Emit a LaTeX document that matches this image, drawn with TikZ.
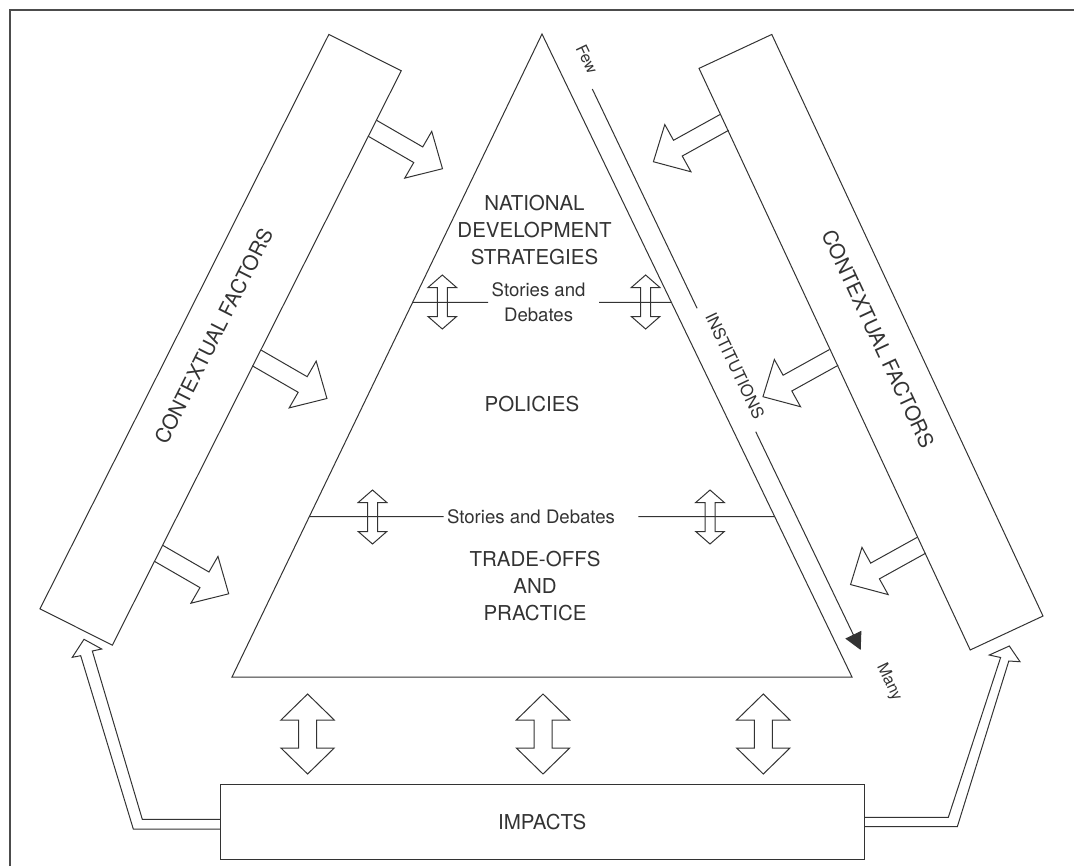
\documentclass[tikz,border=0pt]{standalone}
\usepackage{fontspec}
\setmainfont{TeX Gyre Heros}
\usetikzlibrary{calc,arrows.meta}
\begin{document}
\begin{tikzpicture}[x=0.5pt, y=-0.5pt, color=black!80, line width=0.5pt, line join=miter,
	big/.style={font=\fontsize{10.25}{13.5}\selectfont, align=center},
	small/.style={font=\fontsize{9.3}{12.5}\selectfont, align=center, inner sep=1.5pt},
	tiny/.style={font=\fontsize{8}{10}\selectfont, rotate=-64.5},
	cfbox/.style={draw, big, inner sep=0pt, outer sep=0pt}]
	\useasboundingbox (0,0) rectangle (1074,866);
	\draw[line width=0.8pt, black!70] (10,866) -- (10,10) -- (1074,10);
	\path (542,34) coordinate (T) (232,677) coordinate (L) (852,677) coordinate (R)
		(592.3,89) coordinate (i1) (697.1,308.3) coordinate (i2)
		(755.7,431.7) coordinate (i3) (860.7,650) coordinate (i4);
	\draw (T) -- (R) -- (L) -- cycle;
	\node[cfbox, text depth=8pt, rotate=63.3, minimum width=321.5pt, minimum height=40.5pt] (lcf) at (220.6,339.8) {CONTEXTUAL FACTORS};
	\node[cfbox, text depth=8pt, rotate=-65, minimum width=320.85pt, minimum height=40.15pt] (rcf) at (871,342.2) {CONTEXTUAL FACTORS};
	\node[cfbox, minimum width=322.15pt, minimum height=37.5pt] (imp) at (542.2,821.8) {IMPACTS};
	\node[big] (nds) at (534.5,230) {NATIONAL\\DEVELOPMENT\\STRATEGIES};
	\node[big] (pol) at (532,404) {POLICIES};
	\node[big] (tap) at (535,586) {TRADE-OFFS\\AND\\PRACTICE};
	\node[small] (sd1) at (538.6,302.3) {Stories and\\Debates};
	\node[small] (sd2) at (531,516.7) {Stories and Debates};
	\node[tiny] (few) at (587,59) {Few};
	\node[tiny] (many) at (889,682) {Many};
	\node[tiny, font=\fontsize{8.3}{10}\selectfont] (inst) at (735,366) {INSTITUTIONS};
	\draw ($(T)!0.4173!(L)$) -- (sd1.west) ([xshift=5pt]sd1.east) -- ($(T)!0.4173!(R)$);
	\draw ($(T)!0.7507!(L)$) -- (sd2.west) ([xshift=10pt]sd2.east) -- ($(T)!0.7507!(R)$);
	\draw (i1) -- (i2);
	\draw[-{Triangle[length=8.5pt,width=8.8pt]}] (i3) -- (i4);
	\foreach \t in {0.1,0.5,0.84}
		\draw[shift={($(lcf.south east)!\t!(lcf.south west)$)}, rotate=-30]
			(0,-9) -- (53,-9) -- (53,-27) -- (81,0) -- (53,27) -- (53,9) -- (0,9);
	\foreach \t in {0.093,0.497,0.82}
		\draw[shift={($(rcf.south west)!\t!(rcf.south east)$)}, rotate=209]
			(0,-9) -- (53,-9) -- (53,-27) -- (81,0) -- (53,27) -- (53,9) -- (0,9);
	\foreach \x/\y in {442.3/302, 645.6/302, 372.5/517, 710/517}
		\draw (\x,\y) ++(0,-27) -- ++(14.3,12.5) -- ++(-9.3,0) -- ++(0,29) -- ++(9.3,0)
			-- ++(-14.3,12.5) -- ++(-14.3,-12.5) -- ++(9.3,0) -- ++(0,-29) -- ++(-9.3,0) -- cycle;
	\foreach \x in {307.6,543,763.3}
		\draw (\x,694) -- ++(26.65,26) -- ++(-17.65,0) -- ++(0,28) -- ++(17.65,0)
			-- ++(-26.65,26) -- ++(-26.65,-26) -- ++(17.65,0) -- ++(0,-28) -- ++(-17.65,0) -- cycle;
	\draw ($(imp.west)+(0,7.2)$) -- (133.3,829) -- (80.7,655.7) -- (72.3,657.3) -- (84,639.3)
		-- (101.7,649) -- (92.3,651) -- (142.3,819.3) -- ($(imp.west)+(0,-2.5)$);
	\draw ($(imp.east)+(0,-4.5)$) -- (948.3,817.3) -- (1000.6,657.5) -- (989.3,655) -- (1009.3,646)
		-- (1020,661.7) -- (1008.8,661) -- (957.3,826.7) -- ($(imp.east)+(0,4.9)$);
\end{tikzpicture}
\end{document}
